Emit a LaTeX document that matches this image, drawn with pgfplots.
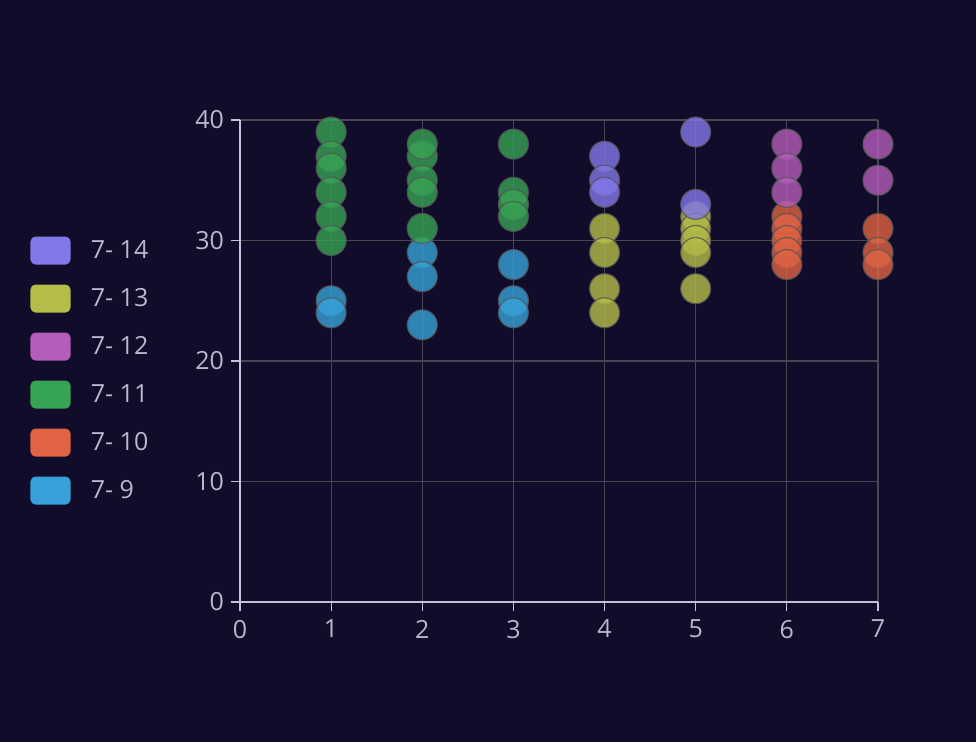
\documentclass[border=0pt]{standalone}
\usepackage{pgfplots}
\pgfplotsset{compat=1.18}
\usepackage{fontspec}
\setmainfont{Open Sans}
\definecolor{bg}{HTML}{100C2A}
\definecolor{gridc}{HTML}{484753}
\definecolor{axc}{HTML}{C4C2D6}
\definecolor{txc}{HTML}{B9B8CE}
\definecolor{mkb}{HTML}{555555}
\definecolor{c9}{HTML}{37A2DA}
\definecolor{c10}{HTML}{E06343}
\definecolor{c11}{HTML}{37A354}
\definecolor{c12}{HTML}{B55DBA}
\definecolor{c13}{HTML}{B5BD48}
\definecolor{c14}{HTML}{8378EA}
\pgfplotsset{dot/.style={only marks, mark=*, mark size=7.5pt, fill=#1,
  mark options={fill=#1, draw=mkb, line width=0.6pt, fill opacity=0.8, draw opacity=0.8}}}
\begin{document}
\begin{tikzpicture}[x=1pt,y=1pt]
\fill[bg] (-120,-70) rectangle (368,301);
\begin{axis}[
  at={(0,0)}, anchor=south west,
  scale only axis, width=319pt, height=241pt,
  xmin=0, xmax=7, ymin=0, ymax=40,
  xtick={0,...,7}, ytick={0,10,20,30,40},
  axis x line=bottom, axis y line=left,
  axis line style={draw=axc, line width=0.6pt, -},
  tick style={draw=axc, line width=0.6pt},
  tick align=outside, major tick length=4.5pt,
  grid=major, major grid style={draw=gridc, line width=0.6pt},
  ticklabel style={text=txc, font=\fontsize{12.5}{14}\selectfont},
  xticklabel style={yshift=-1pt},
  /pgf/number format/assume math mode=true,
  clip=false,
  legend style={at={(rel axis cs:-0.329,0.759)}, anchor=north west,
    draw=none, fill=none, inner sep=0pt, row sep=10pt,
    nodes={text=txc, font=\fontsize{12.5}{14}\selectfont, inner sep=0pt, text height=9pt, text depth=1pt},
    /tikz/every even column/.append style={column sep=0pt}},
  legend cell align=left,
  reverse legend,
  legend image code/.code={\fill[rounded corners=2.5pt,#1,draw=none,fill opacity=1] (0pt,-7pt) rectangle (20pt,7pt); \path (30pt,0pt);},
]
\addplot[dot=c9] coordinates {(1,25)(1,24)(2,29)(2,27)(2,23)(3,28)(3,25)(3,24)};
\addlegendentry{7- 9}
\addplot[dot=c10] coordinates {(6,32)(6,31)(6,30)(6,29)(6,28)(7,31)(7,29)(7,28)};
\addlegendentry{7- 10}
\addplot[dot=c11] coordinates {(1,39)(1,37)(1,36)(1,34)(1,32)(1,30)(2,37)(2,38)(2,35)(2,34)(2,31)(3,38)(3,34)(3,33)(3,32)};
\addlegendentry{7- 11}
\addplot[dot=c12] coordinates {(6,38)(6,36)(6,34)(7,38)(7,35)};
\addlegendentry{7- 12}
\addplot[dot=c13] coordinates {(4,31)(4,29)(4,26)(4,24)(5,32)(5,31)(5,30)(5,29)(5,26)};
\addlegendentry{7- 13}
\addplot[dot=c14] coordinates {(4,37)(4,35)(4,34)(5,39)(5,33)};
\addlegendentry{7- 14}
\end{axis}
\end{tikzpicture}
\end{document}
